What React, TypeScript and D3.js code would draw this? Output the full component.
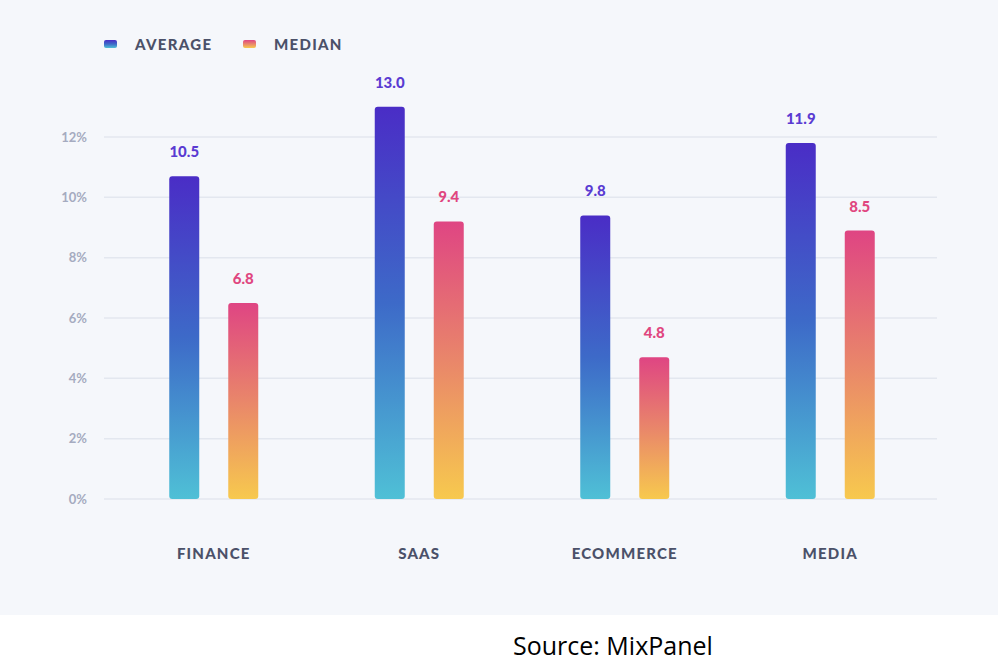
import React, { useRef, useEffect } from "react";
import * as d3 from "d3";

const categories = ["FINANCE", "SAAS", "ECOMMERCE", "MEDIA"];
// bar heights (percent)
const averageValues = [10.7, 13.0, 9.4, 11.8];
const medianValues = [6.5, 9.2, 4.7, 8.9];
// value labels as printed above the bars
const averageLabels = ["10.5", "13.0", "9.8", "11.9"];
const medianLabels = ["6.8", "9.4", "4.8", "8.5"];
const yTicks = [0, 2, 4, 6, 8, 10, 12];
const seriesNames = ["AVERAGE", "MEDIAN"];

const App = () => {
  const svgRef = useRef<SVGSVGElement>(null);

  useEffect(() => {
    document.body.style.margin = "0";
    const width = 1004;
    const height = 670;
    const margin = { top: 137, right: 67, bottom: 171, left: 104 };

    const svg = d3.select(svgRef.current);
    svg.selectAll("*").remove();

    const defs = svg.append("defs");
    const avgGrad = defs.append("linearGradient").attr("id", "gAvg").attr("x1", 0).attr("y1", 0).attr("x2", 0).attr("y2", 1);
    avgGrad.append("stop").attr("offset", "0%").attr("stop-color", "#4a2dc6");
    avgGrad.append("stop").attr("offset", "50%").attr("stop-color", "#3d6ac8");
    avgGrad.append("stop").attr("offset", "100%").attr("stop-color", "#4fc0d6");
    const medGrad = defs.append("linearGradient").attr("id", "gMed").attr("x1", 0).attr("y1", 0).attr("x2", 0).attr("y2", 1);
    medGrad.append("stop").attr("offset", "0%").attr("stop-color", "#df4583");
    medGrad.append("stop").attr("offset", "50%").attr("stop-color", "#e9866a");
    medGrad.append("stop").attr("offset", "100%").attr("stop-color", "#f7c94e");

    // background panel
    svg.append("rect").attr("width", width).attr("height", height).attr("fill", "#ffffff");
    svg.append("rect").attr("x", 0).attr("y", 0).attr("width", 998).attr("height", 615).attr("fill", "#f5f7fb");

    const y = d3
      .scaleLinear()
      .domain([0, 12])
      .range([height - margin.bottom, margin.top]);

    const x = d3
      .scaleBand()
      .domain(categories)
      .range([111, 933])
      .paddingInner(0)
      .paddingOuter(0);

    // grid + tick labels
    const grid = svg.append("g");
    grid
      .selectAll("line")
      .data(yTicks)
      .join("line")
      .attr("x1", margin.left)
      .attr("x2", width - margin.right)
      .attr("y1", (d) => y(d))
      .attr("y2", (d) => y(d))
      .attr("stroke", "#e3e7ef")
      .attr("stroke-width", 1.5);
    grid
      .selectAll("text")
      .data(yTicks)
      .join("text")
      .attr("x", 87)
      .attr("y", (d) => y(d))
      .attr("dy", "0.35em")
      .attr("text-anchor", "end")
      .attr("fill", "#a5abc0")
      .attr("font-family", "Lato, sans-serif")
      .attr("font-weight", 700)
      .attr("font-size", 13)
      .text((d) => `${d}%`);

    const barW = 30;
    const gap = 29;
    const series = [
      { values: averageValues, labels: averageLabels, fill: "url(#gAvg)", color: "#5a3bd2", off: -gap / 2 - barW / 2 },
      { values: medianValues, labels: medianLabels, fill: "url(#gMed)", color: "#e0467f", off: gap / 2 + barW / 2 },
    ];

    series.forEach((s) => {
      const g = svg.append("g");
      g.selectAll("rect")
        .data(categories)
        .join("rect")
        .attr("x", (d) => x(d)! + x.bandwidth() / 2 + s.off - barW / 2)
        .attr("y", (d, i) => y(s.values[i]))
        .attr("width", barW)
        .attr("height", (d, i) => y(0) - y(s.values[i]))
        .attr("rx", 3)
        .attr("fill", s.fill);
      g.selectAll("text")
        .data(categories)
        .join("text")
        .attr("x", (d) => x(d)! + x.bandwidth() / 2 + s.off)
        .attr("y", (d, i) => y(s.values[i]) - 19)
        .attr("text-anchor", "middle")
        .attr("fill", s.color)
        .attr("font-family", "Lato, sans-serif")
        .attr("font-weight", 900)
        .attr("font-size", 15)
        .text((d, i) => s.labels[i]);
    });

    // category labels
    svg
      .append("g")
      .selectAll("text")
      .data(categories)
      .join("text")
      .attr("x", (d) => x(d)! + x.bandwidth() / 2)
      .attr("y", 559)
      .attr("text-anchor", "middle")
      .attr("fill", "#4b5169")
      .attr("font-family", "Lato, sans-serif")
      .attr("font-weight", 900)
      .attr("font-size", 15)
      .attr("letter-spacing", 1.2)
      .text((d) => d);

    // legend
    const legend = svg.append("g");
    const legendX = [104, 243];
    seriesNames.forEach((name, i) => {
      legend
        .append("rect")
        .attr("x", legendX[i])
        .attr("y", 40)
        .attr("width", 13)
        .attr("height", 8)
        .attr("rx", 2)
        .attr("fill", i === 0 ? "url(#gAvg)" : "url(#gMed)");
      legend
        .append("text")
        .attr("x", legendX[i] + 31)
        .attr("y", 50)
        .attr("fill", "#4b5169")
        .attr("font-family", "Lato, sans-serif")
        .attr("font-weight", 900)
        .attr("font-size", 15)
        .attr("letter-spacing", 1.3)
        .text(name);
    });

    svg
      .append("text")
      .attr("x", 513)
      .attr("y", 655)
      .attr("fill", "#000")
      .attr("font-family", "'Open Sans', sans-serif")
      .attr("font-size", 25)
      .text("Source: MixPanel");
  }, []);

  return <svg ref={svgRef} width={1004} height={670} style={{ display: "block" }} />;
};

export default App;
